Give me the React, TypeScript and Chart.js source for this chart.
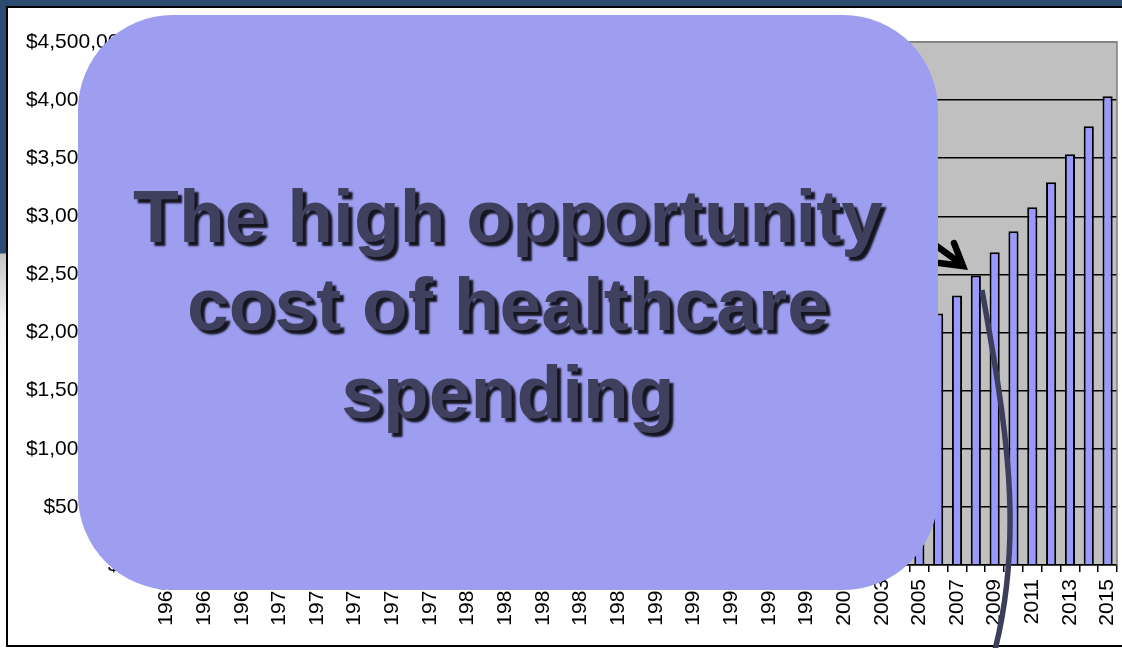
import React, { useEffect, useRef } from "react";
import { Chart, registerables } from "chart.js";

Chart.register(...registerables);

const years: string[] = [
  "1965","1966","1967","1968","1969","1970","1971","1972","1973","1974",
  "1975","1976","1977","1978","1979","1980","1981","1982","1983","1984",
  "1985","1986","1987","1988","1989","1990","1991","1992","1993","1994",
  "1995","1996","1997","1998","1999","2000","2001","2002","2003","2004",
  "2005","2006","2007","2008","2009","2010","2011","2012","2013","2014","2015",
];

// National health expenditures, $ millions
const spending: number[] = [
  41900, 46100, 51600, 58400, 65900, 74600, 82700, 92700, 102800, 116500,
  133300, 152700, 173900, 195300, 221500, 255300, 296200, 334000, 367800, 405000,
  442900, 474700, 516500, 579300, 644800, 721400, 788100, 854100, 916600, 967200,
  1021600, 1074400, 1135500, 1202000, 1278300, 1369700, 1486800, 1628600, 1767200, 1895500,
  2021000, 2164000, 2319000, 2491000, 2690000, 2871000, 3078000, 3293000, 3534000, 3776000, 4034000,
];

const yMax = 4500000;
const yStep = 500000;
const titleLines: string[] = ["The high opportunity", "cost of healthcare", "spending"];

const plotBg = {
  id: "plotBg",
  beforeDraw(chart: any) {
    const { ctx, chartArea: a } = chart;
    ctx.save();
    ctx.fillStyle = "#c0c0c0";
    ctx.fillRect(a.left, a.top, a.right - a.left, a.bottom - a.top);
    ctx.restore();
  },
  afterDatasetsDraw(chart: any) {
    const { ctx, chartArea: a } = chart;
    ctx.save();
    ctx.strokeStyle = "#808080";
    ctx.lineWidth = 1.5;
    ctx.beginPath();
    ctx.moveTo(a.left, a.top);
    ctx.lineTo(a.right, a.top);
    ctx.lineTo(a.right, a.bottom);
    ctx.stroke();
    ctx.restore();
  },
};

function BarChart() {
  const ref = useRef<HTMLCanvasElement | null>(null);
  useEffect(() => {
    if (!ref.current) return;
    Chart.defaults.font.family = "'Liberation Sans', Arial, sans-serif";
    Chart.defaults.color = "#000";
    const chart = new Chart(ref.current, {
      type: "bar",
      data: {
        labels: years,
        datasets: [
          {
            data: spending,
            backgroundColor: "#9999ff",
            borderColor: "#000000",
            borderWidth: 2,
            categoryPercentage: 1,
            barPercentage: 0.54,
          },
        ],
      },
      options: {
        animation: false,
        responsive: false,
        maintainAspectRatio: false,
        layout: { padding: { top: 34, right: 5, left: 0, bottom: 0 } },
        plugins: { legend: { display: false }, tooltip: { enabled: false } },
        scales: {
          x: {
            offset: true,
            grid: {
              offset: true,
              drawOnChartArea: false,
              drawTicks: true,
              tickLength: 7,
              color: "#000",
              lineWidth: 1.5,
            },
            border: { color: "#000", width: 1.5 },
            ticks: {
              autoSkip: false,
              maxRotation: 90,
              minRotation: 90,
              padding: 7,
              font: { size: 21 },
              color: "#000",
              callback: (_v: any, i: number) => (i % 2 === 0 ? years[i] : ""),
            },
            afterFit: (s: any) => {
              s.height = 80;
              s.paddingLeft = 0;
              s.paddingRight = 0;
            },
          },
          y: {
            min: 0,
            max: yMax,
            grid: {
              drawTicks: true,
              tickLength: 6,
              lineWidth: 1.5,
              color: (c: any) => (c.tick && c.tick.value === yMax ? "#808080" : "#000"),
            },
            border: { color: "#000", width: 1.5 },
            ticks: {
              stepSize: yStep,
              padding: 20,
              font: { size: 21 },
              color: "#000",
              callback: (v: any) => "$" + Number(v).toLocaleString("en-US"),
            },
            afterFit: (s: any) => {
              s.width = 149;
              s.paddingTop = 0;
              s.paddingBottom = 0;
            },
          },
        },
      },
      plugins: [plotBg],
    });
    return () => chart.destroy();
  }, []);
  return (
    <canvas
      ref={ref}
      width={1114}
      height={637}
      style={{ position: "absolute", left: 0, top: 0, width: 1114, height: 637 }}
    />
  );
}

export default function App() {
  return (
    <div
      style={{
        position: "fixed",
        left: 0,
        top: 0,
        width: 1122,
        height: 648,
        overflow: "hidden",
        background:
          "linear-gradient(to bottom, #2b4b70 0px, #2b4b70 253px, #c4c4c4 254px, #f4f4f4 320px, #ffffff 400px)",
      }}
    >
      <div
        style={{
          position: "absolute",
          left: 6,
          top: 6,
          width: 1130,
          height: 637,
          border: "2px solid #000",
          background: "#fff",
        }}
      >
        <BarChart />
      </div>
      <svg
        width={1122}
        height={648}
        style={{ position: "absolute", left: 0, top: 0, pointerEvents: "none" }}
      >
        <path
          d="M 982 290 C 1005 420, 1025 530, 995 650"
          fill="none"
          stroke="#3d3d5c"
          strokeWidth={5.5}
        />
        <path d="M 920 234 L 960 263" fill="none" stroke="#000" strokeWidth={6.5} strokeLinecap="round" />
        <path
          d="M 954 243 L 963 266 L 939 263"
          fill="none"
          stroke="#000"
          strokeWidth={6.5}
          strokeLinecap="round"
          strokeLinejoin="miter"
        />
      </svg>
      <div
        style={{
          position: "absolute",
          left: 78,
          top: 15,
          width: 860,
          height: 575,
          borderRadius: 95,
          background: "#9d9ef0",
        }}
      >
        <div
          style={{
            position: "absolute",
            left: 0,
            right: 0,
            top: 157,
            textAlign: "center",
            fontFamily: "'Liberation Sans', Arial, sans-serif",
            fontWeight: "bold",
            fontSize: 75,
            lineHeight: "88px",
            color: "#3f3f5e",
            textShadow: "4px 4px 2px #15151f",
          }}
        >
          {titleLines.map((l, i) => (
            <div key={i}>{l}</div>
          ))}
        </div>
      </div>
    </div>
  );
}
